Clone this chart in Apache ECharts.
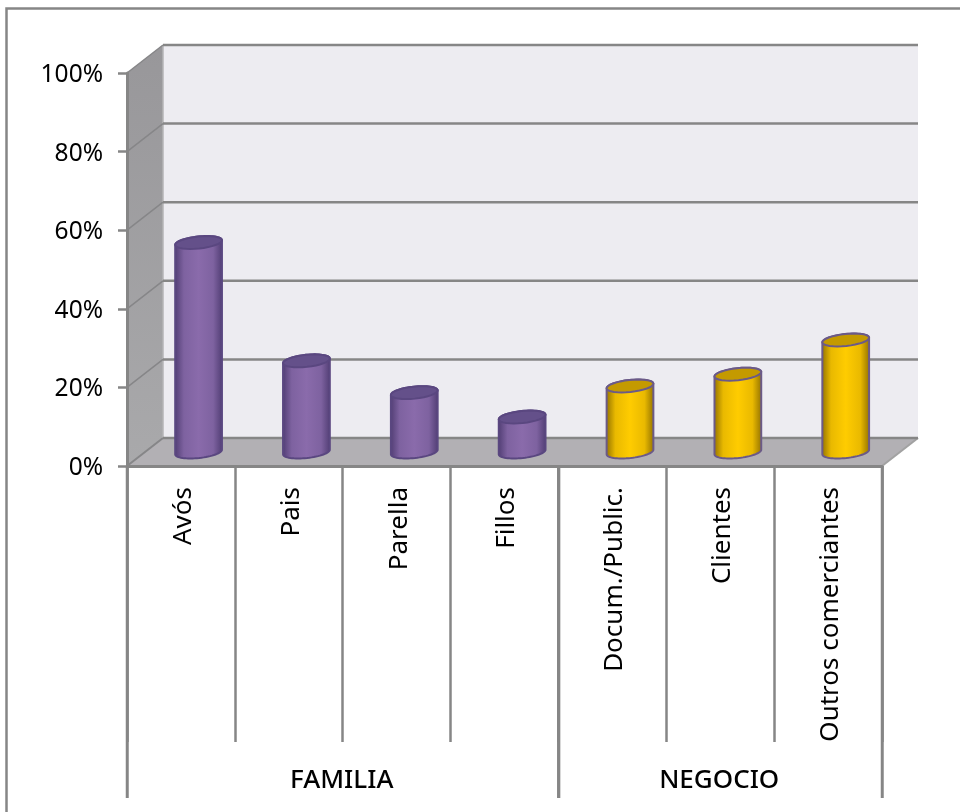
<!DOCTYPE html>
<html>
<head>
<meta charset="utf-8">
<style>html,body{margin:0;padding:0;background:#fff}#c{width:960px;height:812px}</style>
<script src="https://cdn.jsdelivr.net/npm/echarts@6/dist/echarts.min.js"></script>
</head>
<body>
<div id="c"></div>
<script>
const categories = ['Avós','Pais','Parella','Fillos','Docum./Public.','Clientes','Outros comerciantes'];
const values = [53.3, 23.2, 15.1, 8.9, 16.8, 19.8, 28.5];
const groupOfBar = [0, 0, 0, 0, 1, 1, 1];
const groups = [
  { name: 'FAMILIA', start: 0, end: 3 },
  { name: 'NEGOCIO', start: 4, end: 6 }
];
const yTicks = [0, 20, 40, 60, 80, 100];

const DX = 36, DY = -28;          // 3D depth of the box
const LINE = '#868686';
const FONT = '"Noto Sans", sans-serif';
const RX = 23.5, RY = 6, TILT = -6 * Math.PI / 180;
const GROUP_BOTTOM = 798, GROUP_LABEL_Y = 781;

const palettes = [
  { edge: '#4f3c72', mid: '#8a6bab', top: '#64508a', stroke: '#5a4780' },
  { edge: '#8f6f00', mid: '#ffcc00', top: '#c49a00', stroke: '#6b5a88' }
];

function ell(cx, cy, t) {
  const c = Math.cos(t), s = Math.sin(t), ca = Math.cos(TILT), sa = Math.sin(TILT);
  return [cx + RX * c * ca - RY * s * sa, cy + RX * c * sa + RY * s * ca];
}
function arc(cx, cy, from, to) {
  const pts = [];
  for (let i = 0; i <= 32; i++) pts.push(ell(cx, cy, from + (to - from) * i / 32));
  return pts;
}

function renderBox(params, api) {
  const bl = api.coord([0, 0]), tl = api.coord([0, 100]), br = api.coord([6, 0]);
  const band = api.size([1, 0])[0];
  const x0 = bl[0] - band / 2, x1 = br[0] + band / 2, y0 = bl[1], y1 = tl[1];
  return {
    type: 'group',
    children: [
      { type: 'rect', shape: { x: x0 + DX, y: y1 + DY, width: x1 - x0, height: y0 - y1 },
        style: { fill: '#edecf1' } },
      { type: 'polygon', shape: { points: [[x0, y1], [x0 + DX, y1 + DY], [x0 + DX, y0 + DY], [x0, y0]] },
        style: { fill: { type: 'linear', x: 0, y: 0, x2: 0, y2: 1, colorStops: [
          { offset: 0, color: '#98979a' }, { offset: 1, color: '#a9a9ab' }] } } },
      { type: 'polygon', shape: { points: [[x0, y0], [x0 + DX, y0 + DY], [x1 + DX, y0 + DY], [x1, y0]] },
        style: { fill: '#b2b0b4' } },
      { type: 'line', shape: { x1: x0 + DX, y1: y1 + DY, x2: x0 + DX, y2: y0 + DY },
        style: { stroke: '#b4b4b6', lineWidth: 1.5 } },
      { type: 'line', shape: { x1: x1, y1: y0, x2: x1 + DX, y2: y0 + DY },
        style: { stroke: '#a2a2a2', lineWidth: 2 } }
    ]
  };
}

function renderGridLine(params, api) {
  const v = api.value(1);
  const l = api.coord([0, v]), r = api.coord([6, 0]);
  const band = api.size([1, 0])[0];
  const x0 = l[0] - band / 2, x1 = r[0] + band / 2, y = l[1];
  return {
    type: 'group',
    children: [
      { type: 'line', shape: { x1: x0, y1: y, x2: x0 + DX, y2: y + DY },
        style: { stroke: '#868688', lineWidth: v === 0 ? 2 : 1.5 } },
      { type: 'line', shape: { x1: x0 + DX, y1: y + DY, x2: x1 + DX, y2: y + DY },
        style: { stroke: LINE, lineWidth: 2.5 } }
    ]
  };
}

function mix(p, f) {
  const h = c => [1, 3, 5].map(k => parseInt(c.substr(k, 2), 16));
  const a = h(p.edge), b = h(p.mid);
  return 'rgb(' + a.map((x, k) => Math.round(x + (b[k] - x) * f)).join(',') + ')';
}

function renderBar(params, api) {
  const i = api.value(0), v = api.value(1), p = palettes[api.value(2)];
  const base = api.coord([i, 0]), top = api.coord([i, v]);
  const cx = base[0] + DX * 0.49, yb = base[1] + DY * 0.5, yt = top[1] + DY * 0.5;
  const body = arc(cx, yb, 0, Math.PI).concat(arc(cx, yt, Math.PI, 2 * Math.PI));
  return {
    type: 'group',
    children: [
      { type: 'polygon', shape: { points: body },
        style: { stroke: p.stroke, lineWidth: 2, fill: {
          type: 'linear', x: 0, y: 0, x2: 1, y2: 0, colorStops: [
            { offset: 0, color: p.edge }, { offset: 0.2, color: mix(p, 0.8) },
            { offset: 0.5, color: p.mid }, { offset: 0.8, color: mix(p, 0.8) },
            { offset: 1, color: p.edge }] } } },
      { type: 'polygon', shape: { points: arc(cx, yt, 0, 2 * Math.PI) },
        style: { fill: p.top, stroke: p.stroke, lineWidth: 2 } }
    ]
  };
}

function renderGroup(params, api) {
  const g = groups[api.value(0)];
  const a = api.coord([g.start, 0]), b = api.coord([g.end, 0]);
  const band = api.size([1, 0])[0];
  const x0 = a[0] - band / 2, x1 = b[0] + band / 2, y = a[1];
  return {
    type: 'group',
    children: [
      { type: 'line', shape: { x1: x0 + 0.25, y1: y, x2: x0 + 0.25, y2: GROUP_BOTTOM }, style: { stroke: LINE, lineWidth: 3 } },
      { type: 'line', shape: { x1: x1 + 0.25, y1: y, x2: x1 + 0.25, y2: GROUP_BOTTOM }, style: { stroke: LINE, lineWidth: 3 } },
      { type: 'text', style: { text: g.name, x: (x0 + x1) / 2 - 1, y: GROUP_LABEL_Y, align: 'center', verticalAlign: 'middle',
          fill: '#000', font: '500 26px ' + FONT } }
    ]
  };
}

const chart = echarts.init(document.getElementById('c'), null, { renderer: 'canvas' });
chart.setOption({
  animation: false,
  backgroundColor: '#fff',
  grid: { left: 127, right: 78, top: 73, bottom: 346, containLabel: false },
  graphic: [
    { type: 'polyline', shape: { points: [[6.5, 812], [6.5, 8.5], [960, 8.5]] },
      style: { stroke: LINE, lineWidth: 2.5, fill: 'none' }, silent: true }
  ],
  xAxis: {
    type: 'category', data: categories, z: 5,
    axisLine: { show: true, lineStyle: { color: LINE, width: 3 } },
    axisTick: { show: true, length: 276, lineStyle: { color: LINE, width: 2.5 } },
    axisLabel: { rotate: 90, margin: 21, interval: 0, color: '#000', fontFamily: FONT, fontSize: 26, verticalAlign: 'top', lineHeight: 5 },
    splitLine: { show: false }
  },
  yAxis: {
    type: 'value', min: 0, max: 100, interval: 20, z: 5,
    axisLine: { show: true, lineStyle: { color: LINE, width: 3 } },
    axisTick: { show: true, length: 9, lineStyle: { color: LINE, width: 2.5 } },
    axisLabel: { margin: 24, color: '#000', fontFamily: FONT, fontSize: 24.5, verticalAlign: 'top', lineHeight: 4, formatter: '{value}%' },
    splitLine: { show: false }
  },
  tooltip: { show: false },
  series: [
    { type: 'custom', silent: true, z: 1, coordinateSystem: 'cartesian2d', renderItem: renderBox,
      data: [[0, 0]], encode: { x: 0, y: 1 } },
    { type: 'custom', silent: true, z: 2, coordinateSystem: 'cartesian2d', renderItem: renderGridLine,
      data: yTicks.map(t => [0, t]), encode: { x: 0, y: 1 } },
    { type: 'custom', silent: true, z: 6, coordinateSystem: 'cartesian2d', renderItem: renderBar,
      data: values.map((v, i) => [i, v, groupOfBar[i]]), encode: { x: 0, y: 1 } },
    { type: 'custom', silent: true, z: 6, coordinateSystem: 'cartesian2d', renderItem: renderGroup,
      data: groups.map((g, i) => [i, 0]), encode: { x: 0, y: 1 } }
  ]
});
</script>
</body>
</html>
